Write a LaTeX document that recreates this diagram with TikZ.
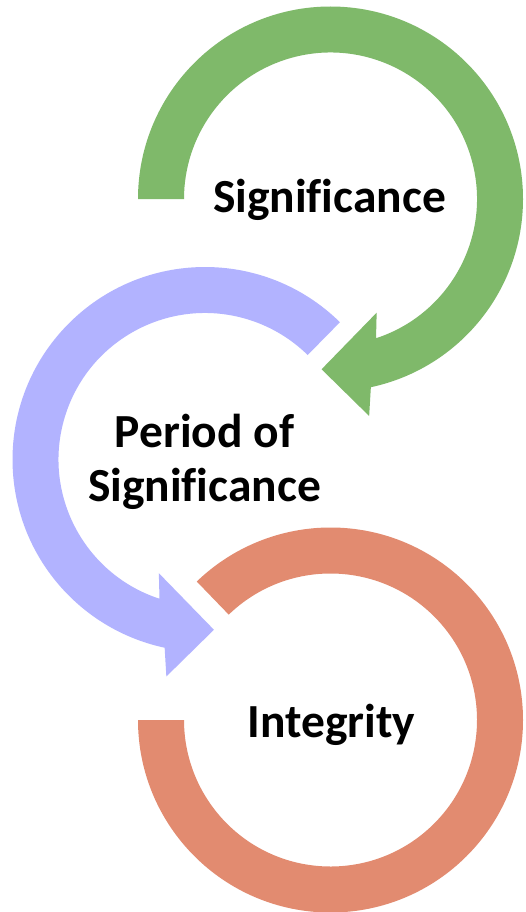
\documentclass[tikz,border=0pt]{standalone}
\usepackage{fontspec}
\setmainfont{Carlito}[Ligatures=NoCommon]
\definecolor{arcgreen}{RGB}{127,185,106}
\definecolor{arcpurple}{RGB}{178,179,255}
\definecolor{arcorange}{RGB}{226,139,112}
\begin{document}
\begin{tikzpicture}[x=1pt,y=1pt,
  lbl/.style={font=\fontsize{47.5}{54}\selectfont\bfseries, inner sep=0pt, align=center, text=black},
  ring/.style={draw=none}]
\useasboundingbox (0,0) rectangle (526,-912);
\fill[white] (0,0) rectangle (526,-912);
% green arrow
\begin{scope}[shift={(330.5,-199)}]
\fill[arcgreen,ring] (180:146.5) -- (180:192.5)
  arc[start angle=180,end angle=-77.9,radius=192.5pt]
  -- (-79.9:220.4) -- (-93:170.5) -- (-67.9:122.7) -- (-71.9:146.5)
  arc[start angle=-71.9,end angle=180,radius=146.5pt] -- cycle;
\end{scope}
% purple arrow
\begin{scope}[shift={(205,-459.5)}]
\fill[arcpurple,ring] (45.5:146.5) -- (45.5:192.5)
  arc[start angle=45.5,end angle=257.9,radius=192.5pt]
  -- (259.9:220.4) -- (273:170.5) -- (247.9:122.7) -- (251.9:146.5)
  arc[start angle=251.9,end angle=45.5,radius=146.5pt] -- cycle;
\end{scope}
% orange arc
\begin{scope}[shift={(330.5,-720)}]
\fill[arcorange,ring] (180:146.5) -- (180:192.5)
  arc[start angle=180,end angle=494,radius=192.5pt]
  -- (134:146.5)
  arc[start angle=494,end angle=180,radius=146.5pt] -- cycle;
\end{scope}
\node[lbl,anchor=base] (sig) at (329.5,-212) {Significance};
\node[lbl,anchor=base] (pos) at (204.5,-501) {Period of\\Significance};
\node[lbl,anchor=base] (int) at (331.5,-737) {Integrity};
\end{tikzpicture}
\end{document}
